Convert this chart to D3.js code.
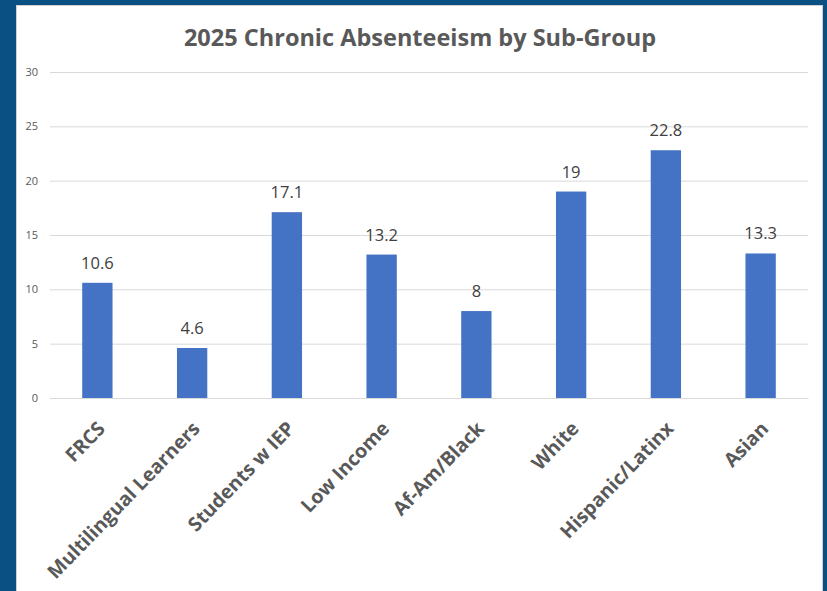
<!DOCTYPE html>
<html>
<head>
<meta charset="utf-8">
<script src="https://cdn.jsdelivr.net/npm/d3@7"></script>
<style>
  html, body { margin: 0; padding: 0; background: #0b5082; }
  svg { display: block; }
</style>
</head>
<body>
<svg id="chart"></svg>
<script>
var categories = ["FRCS", "Multilingual Learners", "Students w IEP", "Low Income",
                  "Af-Am/Black", "White", "Hispanic/Latinx", "Asian"];
var values = [10.6, 4.6, 17.1, 13.2, 8, 19, 22.8, 13.3];
var yTicks = [0, 5, 10, 15, 20, 25, 30];

var svgWidth = 827, svgHeight = 591;
var svg = d3.select("#chart").attr("width", svgWidth).attr("height", svgHeight);

// white panel inside the dark border
svg.append("rect")
    .attr("x", 16.5).attr("y", 5.5)
    .attr("width", 806).attr("height", svgHeight)
    .style("fill", "#ffffff")
    .style("stroke", "#d0d0d0")
    .style("stroke-width", 1);

var plotLeft = 50, plotRight = 808, plotTop = 72, plotBottom = 398;

var x = d3.scaleBand().domain(categories).range([plotLeft, plotRight]).paddingInner(0.68).paddingOuter(0.34);
var y = d3.scaleLinear().domain([0, 30]).range([plotBottom, plotTop]);

svg.append("text")
    .attr("x", 420).attr("y", 46)
    .attr("text-anchor", "middle")
    .style("font-family", "'Open Sans', sans-serif")
    .style("font-weight", "bold")
    .style("font-size", "23.5px")
    .style("fill", "#595959")
    .text("2025 Chronic Absenteeism by Sub-Group");

// gridlines + y labels
var yAxis = d3.axisLeft(y).tickValues(yTicks).tickSize(-(plotRight - plotLeft)).tickPadding(12);
var gy = svg.append("g").attr("transform", "translate(" + plotLeft + ",0)").call(yAxis);
gy.select(".domain").remove();
gy.selectAll(".tick line").style("stroke", "#d9d9d9").style("stroke-width", 1);
gy.selectAll(".tick text")
    .style("font-family", "'Open Sans', sans-serif")
    .style("font-size", "11px")
    .style("fill", "#595959");

// bars
svg.selectAll("rect.bar")
    .data(values)
    .enter().append("rect")
    .attr("class", "bar")
    .attr("x", function (d, i) { return x(categories[i]); })
    .attr("y", function (d) { return y(d); })
    .attr("width", x.bandwidth())
    .attr("height", function (d) { return y(0) - y(d); })
    .style("fill", "#4472c4");

svg.selectAll("text.val")
    .data(values)
    .enter().append("text")
    .attr("class", "val")
    .attr("x", function (d, i) { return x(categories[i]) + x.bandwidth() / 2; })
    .attr("y", function (d) { return y(d) - 14; })
    .attr("text-anchor", "middle")
    .style("font-family", "'Open Sans', sans-serif")
    .style("font-size", "16.5px")
    .style("fill", "#404040")
    .text(function (d) { return d; });

// x axis with rotated labels
var xAxis = d3.axisBottom(x).tickSize(0).tickPadding(0);
var gx = svg.append("g").attr("transform", "translate(0," + plotBottom + ")").call(xAxis);
gx.select(".domain").style("stroke", "#d9d9d9");
gx.selectAll(".tick text")
    .attr("text-anchor", "end")
    .attr("transform", "translate(4,27) rotate(-46)")
    .attr("dy", "0.35em")
    .style("font-family", "'Open Sans', sans-serif")
    .style("font-weight", "bold")
    .style("font-size", "19.5px")
    .style("fill", "#595959");
</script>
</body>
</html>
